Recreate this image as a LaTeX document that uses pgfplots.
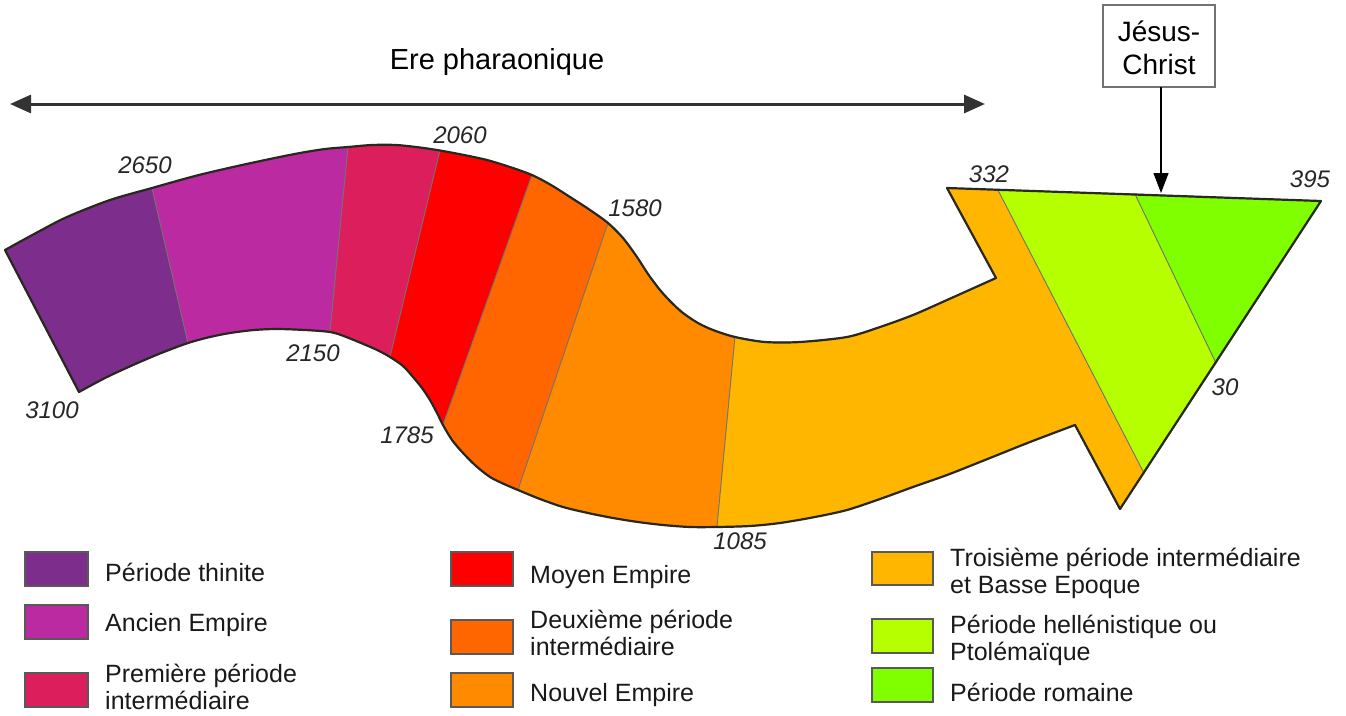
\documentclass[border=0pt]{standalone}
\usepackage{pgfplots}
\pgfplotsset{compat=1.18}
\usepackage{fontspec}
\setmainfont{Liberation Sans}
\usetikzlibrary{arrows.meta}
\definecolor{cThin}{RGB}{125,45,140}
\definecolor{cAnc}{RGB}{188,42,162}
\definecolor{cPrem}{RGB}{220,30,92}
\definecolor{cMoy}{RGB}{255,0,0}
\definecolor{cDeux}{RGB}{255,102,0}
\definecolor{cNouv}{RGB}{255,138,0}
\definecolor{cTrois}{RGB}{255,182,0}
\definecolor{cHell}{RGB}{182,255,0}
\definecolor{cRom}{RGB}{128,255,0}
\definecolor{cEdge}{RGB}{40,40,30}
\tikzset{
  seg/.style={draw=black!55,line width=0.8pt},
  edge/.style={draw=cEdge,line width=2.2pt,line join=round,line cap=round},
  sw/.style={draw=black!65,line width=1.5pt},
  num/.style={font=\fontsize{24}{28}\selectfont\itshape,text=black!85},
  leg/.style={font=\fontsize{25}{27}\selectfont,text=black!90,anchor=west,align=left,inner sep=0pt}}
\begin{document}
\begin{tikzpicture}
\begin{axis}[width=1346pt,height=715pt,scale only axis,
  xmin=0,xmax=1346,ymin=0,ymax=715,y dir=reverse,
  hide axis,clip=false,no markers]
\path (axis cs:0,0) rectangle (axis cs:1346,715);
% --- band segments ---
\addplot[seg,fill=cThin] coordinates {(5,250)(36,233)(67,217)(110,200)(152,188)(188,343)(160,353.5)(133,365)(105,378)(79,392)} -- cycle;
\addplot[seg,fill=cAnc] coordinates {(152,188)(195,176)(233,167)(270,159)(300,153)(325,149)(348,147)(330,332)(305,330)(277,329)(254,330)(230,333)(210,337)(188,343)} -- cycle;
\addplot[seg,fill=cPrem] coordinates {(348,147)(372,145)(396,145)(420,147.5)(440,150.5)(390,357)(375,349)(345,336.5)(330,332)} -- cycle;
\addplot[seg,fill=cMoy] coordinates {(440,150.5)(464,155)(487,160)(510,167)(532,175)(443,425)(437,413)(430,400)(422,388)(413,377)(403,366)(390,357)} -- cycle;
\addplot[seg,fill=cDeux] coordinates {(532,175)(551,185)(570,197)(590,210)(608,223)(518,490)(504,484)(490,477)(476,466)(463,453)(452,440)(443,425)} -- cycle;
\addplot[seg,fill=cNouv] coordinates {(608,223)(623,238)(637,257)(648,274)(660,290)(671,302)(683,313)(698,323)(713,330)(735,337)(717,527)(690,527)(663,525)(638,522)(613,518)(588,513)(563,507)(540,499)(518,490)} -- cycle;
\addplot[seg,fill=cTrois] coordinates {(735,337)(765,342)(800,342)(847,337)(880,327)(913,315)(947,300)(996,278)(947,188)(998,190)(1144,473)(1120,509)(1075,425)(1030,442)(980,462)(947,475)(913,487)(880,499)(847,510)(815,517)(780,523)(750,526)(717,527)} -- cycle;
\addplot[seg,fill=cHell] coordinates {(998,190)(1135,194)(1216,363)(1144,473)} -- cycle;
\addplot[seg,fill=cRom] coordinates {(1135,194)(1321,201)(1216,363)} -- cycle;
% --- outline ---
\addplot[edge,smooth,tension=0.5] coordinates {(5,250)(36,233)(67,217)(110,200)(152,188)(195,176)(233,167)(270,159)(300,153)(325,149)(348,147)(372,145)(396,145)(420,147.5)(440,150.5)(464,155)(487,160)(510,167)(532,175)(551,185)(570,197)(590,210)(608,223)(623,238)(637,257)(648,274)(660,290)(671,302)(683,313)(698,323)(713,330)(735,337)(765,342)(800,342)(847,337)(880,327)(913,315)(947,300)(996,278)};
\addplot[edge] coordinates {(996,278)(947,188)(1321,201)(1120,509)(1075,425)};
\addplot[edge,smooth,tension=0.5] coordinates {(1075,425)(1030,442)(980,462)(947,475)(913,487)(880,499)(847,510)(815,517)(780,523)(750,526)(717,527)(690,527)(663,525)(638,522)(613,518)(588,513)(563,507)(540,499)(518,490)(504,484)(490,477)(476,466)(463,453)(452,440)(443,425)(437,413)(430,400)(422,388)(413,377)(403,366)(390,357)(375,349)(345,336.5)(330,332)(305,330)(277,329)(254,330)(230,333)(210,337)(188,343)(160,353.5)(133,365)(105,378)(79,392)};
\addplot[edge] coordinates {(79,392)(5,250)};
% --- year labels ---
\node[num] at (axis cs:52,410) {3100};
\node[num] at (axis cs:145,165) {2650};
\node[num] at (axis cs:313,353) {2150};
\node[num] at (axis cs:460,135) {2060};
\node[num] at (axis cs:407,435) {1785};
\node[num] at (axis cs:635,208) {1580};
\node[num] at (axis cs:740,541) {1085};
\node[num] at (axis cs:989,174) {332};
\node[num] at (axis cs:1310,179) {395};
\node[num] at (axis cs:1225,387) {30};
% --- Ere pharaonique ---
\node[font=\fontsize{29}{34}\selectfont] at (axis cs:497,62) {Ere pharaonique};
\addplot[draw=black!80,line width=3pt,arrows={Triangle[length=21pt,width=18pt]-Triangle[length=21pt,width=18pt]}] coordinates {(10,104)(985,104)};
% --- Jesus-Christ ---
\addplot[draw=black!55,line width=1.5pt,fill=white] coordinates {(1103,5)(1215,5)(1215,87)(1103,87)} -- cycle;
\node[font=\fontsize{28}{33}\selectfont,align=center] at (axis cs:1159,48) {Jésus-\\Christ};
\addplot[draw=black,line width=1.2pt,arrows={-Triangle[length=20pt,width=15pt]}] coordinates {(1161,87)(1161,193)};
% --- legend swatches ---
\addplot[sw,fill=cThin] coordinates {(25,552)(88,552)(88,586)(25,586)} -- cycle;
\addplot[sw,fill=cAnc] coordinates {(25,605)(88,605)(88,639)(25,639)} -- cycle;
\addplot[sw,fill=cPrem] coordinates {(25,673)(88,673)(88,707)(25,707)} -- cycle;
\addplot[sw,fill=cMoy] coordinates {(451,552)(513,552)(513,586)(451,586)} -- cycle;
\addplot[sw,fill=cDeux] coordinates {(451,620)(513,620)(513,654)(451,654)} -- cycle;
\addplot[sw,fill=cNouv] coordinates {(451,673)(513,673)(513,707)(451,707)} -- cycle;
\addplot[sw,fill=cTrois] coordinates {(872,552)(933,552)(933,585)(872,585)} -- cycle;
\addplot[sw,fill=cHell] coordinates {(872,619)(933,619)(933,653)(872,653)} -- cycle;
\addplot[sw,fill=cRom] coordinates {(872,668)(933,668)(933,702)(872,702)} -- cycle;
% --- legend text ---
\node[leg] at (axis cs:105,572) {Période thinite};
\node[leg] at (axis cs:105,625) {Ancien Empire};
\node[leg] at (axis cs:105,687) {Première période\\intermédiaire};
\node[leg] at (axis cs:530,577) {Moyen Empire};
\node[leg] at (axis cs:530,633) {Deuxième période\\intermédiaire};
\node[leg] at (axis cs:530,695) {Nouvel Empire};
\node[leg] at (axis cs:950,573) {Troisième période intermédiaire\\et Basse Epoque};
\node[leg] at (axis cs:950,640) {Période hellénistique ou\\Ptolémaïque};
\node[leg] at (axis cs:950,692) {Période romaine};
\end{axis}
\end{tikzpicture}
\end{document}
